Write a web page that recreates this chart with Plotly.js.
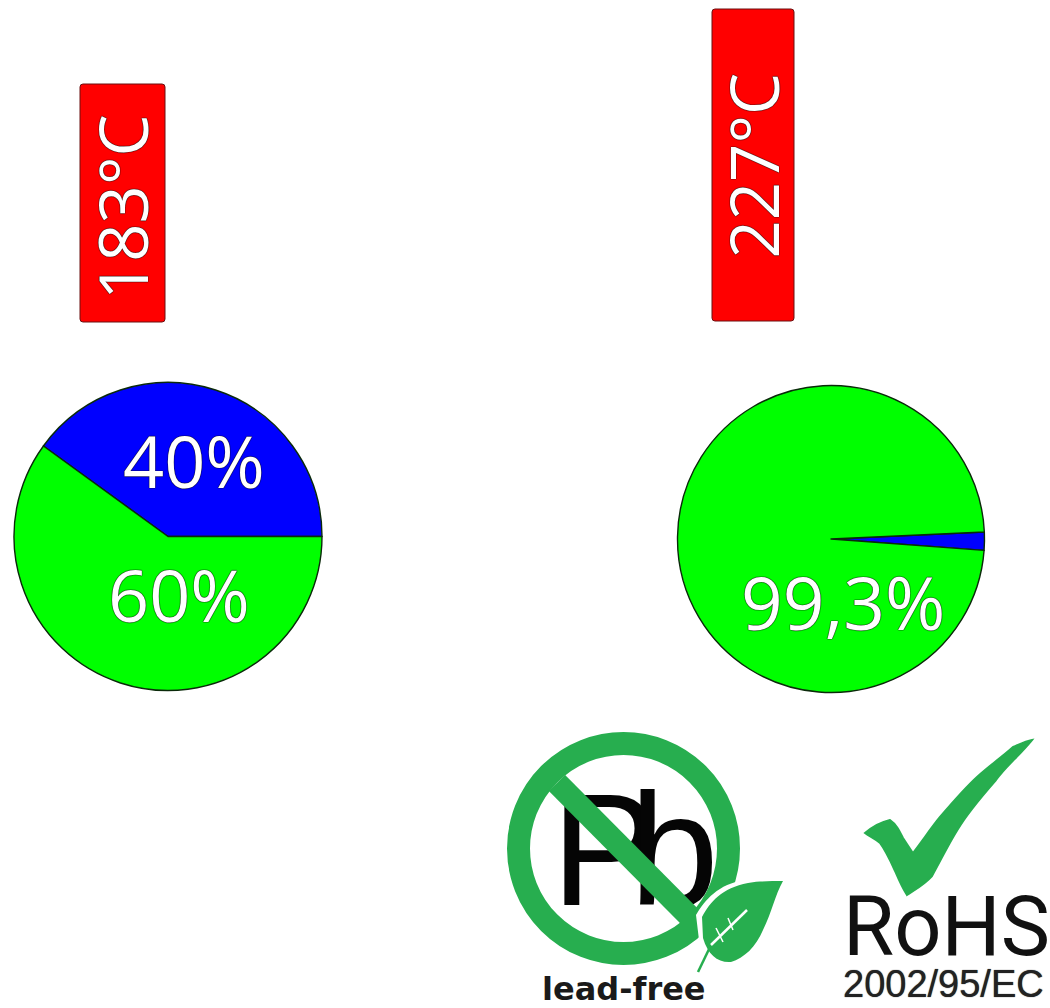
<!DOCTYPE html>
<html>
<head>
<meta charset="utf-8">
<script src="https://cdn.plot.ly/plotly-3.0.1.min.js"></script>
<style>html,body{margin:0;padding:0;background:#fff}#chart{width:1050px;height:1008px}</style>
</head>
<body>
<div id="chart"></div>
<script>
// Data
const sliceColors = ['#0000ff', '#00ff00'];
const leftValues = [40, 60];
const rightValues = [1.9, 98.1];
const leftLabels = ['40%', '60%'];
const rightLabel = '99,3%';
const meltingLabels = ['183°C', '227°C'];
const logoTexts = ['Pb', 'lead-free', 'RoHS', '2002/95/EC'];

const W = 1050, H = 1008, GREEN = '#27ae4f';

function pieDomain(cx, cy, r) {
  return { x: [(cx - r) / W, (cx + r) / W], y: [1 - (cy + r) / H, 1 - (cy - r) / H] };
}
function pieTrace(values, rotation, domain) {
  return {
    type: 'pie', values: values, sort: false, direction: 'clockwise', rotation: rotation,
    domain: domain, textinfo: 'none', hoverinfo: 'skip', automargin: false,
    marker: { colors: sliceColors, line: { color: '#0a2a0a', width: 1.4 } }
  };
}
function roundedBox(x0, y0, x1, y1, r) {
  return `M${x0 + r},${y0} L${x1 - r},${y0} Q${x1},${y0} ${x1},${y0 + r} L${x1},${y1 - r} Q${x1},${y1} ${x1 - r},${y1} L${x0 + r},${y1} Q${x0},${y1} ${x0},${y1 - r} L${x0},${y0 + r} Q${x0},${y0} ${x0 + r},${y0} Z`;
}
function area(path, fill, line, width) {
  return { type: 'path', xref: 'x', yref: 'y', layer: 'above', path: path, fillcolor: fill,
           line: { color: line || fill, width: width === undefined ? 0 : width } };
}
function stroke(x0, y0, x1, y1, color, width) {
  return { type: 'line', xref: 'x', yref: 'y', layer: 'above', x0, y0, x1, y1, line: { color, width } };
}
const OUTLINE = '0 0 1px #111, 0 0 1px #111, 0 0 1px #111';
function label(text, x, y, size, extra) {
  return Object.assign({
    text, x, y, xref: 'x', yref: 'y', showarrow: false, xanchor: 'center', yanchor: 'middle',
    font: { family: 'Open Sans', size, color: '#ffffff', shadow: OUTLINE }
  }, extra || {});
}
function logoText(text, x, y, family, size, color, weight, shadow) {
  return label(text, x, y, size, { font: { family, size, color, weight, shadow: shadow || 'none' } });
}

const traces = [
  pieTrace(leftValues, -54, pieDomain(168, 536.5, 154)),
  pieTrace(rightValues, 87.4, pieDomain(831, 539, 153.5)),
  {
    type: 'scatter', mode: 'text', x: [621], y: [865],
    text: ['<span style="letter-spacing:-28px">' + logoTexts[0] + '</span>'],
    textposition: 'middle center', cliponaxis: false, hoverinfo: 'skip',
    textfont: { family: 'Liberation Sans', size: 160, color: '#050505' }
  }
];

const shapes = [
  area(roundedBox(80, 84, 165, 322, 3), '#ff0000', '#6b1010', 1),
  area(roundedBox(712, 9, 794, 321, 3), '#ff0000', '#6b1010', 1),
  // lead-free ring and bar
  { type: 'circle', xref: 'x', yref: 'y', layer: 'above', x0: 518.5, y0: 743.5, x1: 728.5, y1: 953.5,
    line: { color: GREEN, width: 23 }, fillcolor: 'rgba(0,0,0,0)' },
  stroke(557, 783, 698, 925, GREEN, 23),
  // leaf
  area('M696,915 C705,900 718,884 745,880 C760,878 772,879 787,880 C778,895 775,912 766,932 C758,950 745,962 731,965 C716,967 706,958 699,940 Z', '#ffffff'),
  area('M702,917 C710,902 722,888 748,883 C760,881 771,881 783,881 C775,895 772,912 763,930 C756,947 744,958 731,962 C718,963 708,955 703,938 Z', GREEN),
  stroke(698, 972, 711, 945, GREEN, 2.5),
  stroke(711, 945, 747, 910, '#ffffff', 2.5),
  stroke(716, 928, 723, 942, '#ffffff', 1.5),
  stroke(728, 918, 733, 930, '#ffffff', 1.5),
  // RoHS tick
  area('M1032,740 C1018,757 1006,766 996,780 C982,796 968,812 958,829 C948,845 942,858 932,876 C925,884 916,889 907,895 C902,887 899,880 896,873 C890,860 886,851 880,843 C875,839 869,836 865,833 C871,828 881,822 890,820 C896,824 899,830 903,838 C907,844 910,849 913,853 C923,840 931,828 940,817 C952,803 965,788 977,777 C989,766 1002,757 1013,747 C1020,744 1026,741 1032,740 Z', GREEN, GREEN, 2)
];

const annotations = [
  label(leftLabels[0], 193.5, 460, 72),
  label(leftLabels[1], 179, 594, 72),
  label(rightLabel, 843, 601, 73),
  label(meltingLabels[0], 122, 207, 67, { textangle: -90 }),
  label(meltingLabels[1], 752.5, 166, 67, { textangle: -90 }),
  logoText(logoTexts[1], 623.5, 989, 'DejaVu Sans', 32, '#1a1a1a', 700),
  logoText(logoTexts[2], 946, 926, 'Roboto', 83, '#111111', 400),
  logoText(logoTexts[3], 943, 984, 'Liberation Sans', 38, '#222222', 400, '0 0 1px #222')
];

const layout = {
  width: W, height: H, margin: { l: 0, r: 0, t: 0, b: 0, pad: 0 },
  paper_bgcolor: '#ffffff', plot_bgcolor: 'rgba(0,0,0,0)', showlegend: false, hovermode: false,
  xaxis: { range: [0, W], visible: false, fixedrange: true, domain: [0, 1] },
  yaxis: { range: [H, 0], visible: false, fixedrange: true, domain: [0, 1] },
  shapes, annotations
};

Plotly.newPlot('chart', traces, layout, { displayModeBar: false, staticPlot: true });
</script>
</body>
</html>
